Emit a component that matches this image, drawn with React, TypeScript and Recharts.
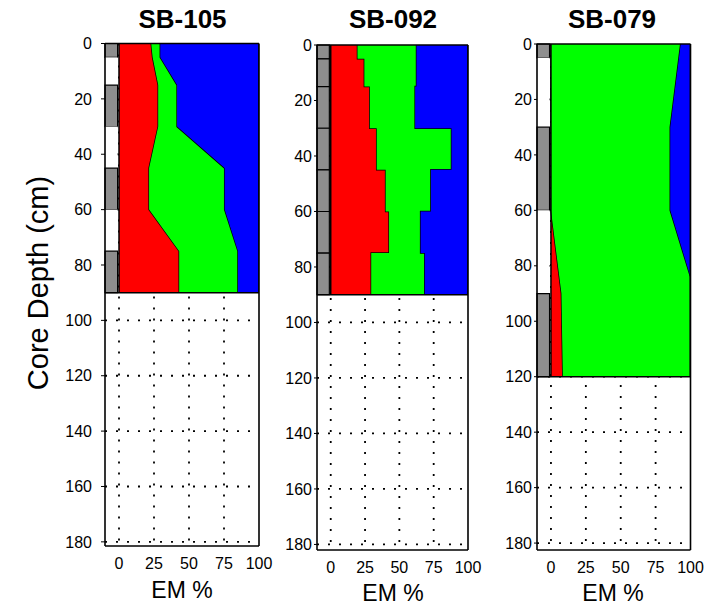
import React from 'react';
import {
  ComposedChart,
  Area,
  XAxis,
  YAxis,
  CartesianGrid,
  ReferenceArea,
  ReferenceLine,
} from 'recharts';

// ---------- shared ticks ----------
const depthTicks = [0, 20, 40, 60, 80, 100, 120, 140, 160, 180];
const gridDepths = [20, 40, 60, 80, 100, 120, 140, 160, 180];
const emTicks = [0, 25, 50, 75, 100];
const gridEm = [0, 25, 50, 75];

// ---------- SB-105 (piecewise linear profile) ----------
const sb105Depth = [0, 5, 15, 30, 45, 60, 75, 90];
const sb105Red = [23, 24, 28, 28, 21.5, 21.5, 43, 43];
const sb105Green = [6.5, 5.5, 13.5, 13.5, 54, 54, 42, 42];
const sb105Blue = [70.5, 70.5, 58.5, 58.5, 24.5, 24.5, 15, 15];
const sb105LithoTop = [0, 5, 15, 30, 45, 60, 75];
const sb105LithoBottom = [5, 15, 30, 45, 60, 75, 90];
const sb105LithoType = ['g', 'w', 'g', 'w', 'g', 'w', 'g'];

// ---------- SB-092 (stepwise intervals) ----------
const sb092Top = [0, 5, 15, 30, 45, 60, 75];
const sb092Bottom = [5, 15, 30, 45, 60, 75, 90];
const sb092Red = [19.5, 24.5, 28.5, 33.5, 40, 42.5, 29.5];
const sb092Green = [43, 38, 33, 54.5, 33, 23, 39];
const sb092Blue = [37.5, 37.5, 38.5, 12, 27, 34.5, 31.5];
const sb092LithoTop = [0, 5, 15, 30, 45, 60, 75];
const sb092LithoBottom = [5, 15, 30, 45, 60, 75, 90];
const sb092LithoType = ['g', 'g', 'g', 'g', 'g', 'g', 'g'];

// ---------- SB-079 (piecewise linear profile) ----------
const sb079Depth = [0, 30, 60, 84, 90, 120];
const sb079Red = [0, 0, 0, 6, 7.5, 8.5];
const sb079Green = [93, 85.5, 85.5, 94, 92.5, 91.5];
const sb079Blue = [7, 14.5, 14.5, 0, 0, 0];
const sb079LithoTop = [0, 5, 30, 60, 90];
const sb079LithoBottom = [5, 30, 60, 90, 120];
const sb079LithoType = ['g', 'w', 'g', 'w', 'g'];

const RED = '#ff0000';
const GREEN = '#00ff00';
const BLUE = '#0000ff';
const FONT = '"Liberation Sans", Arial, Helvetica, sans-serif';

type Row = { depth: number; red: number; green: number; blue: number };
type Litho = { top: number; bottom: number; type: string };

const profileRows = (d: number[], r: number[], g: number[], b: number[]): Row[] =>
  d.map((depth, i) => ({ depth, red: r[i], green: g[i], blue: b[i] }));

const stepRows = (t: number[], bt: number[], r: number[], g: number[], b: number[]): Row[] => {
  const rows: Row[] = [];
  t.forEach((top, i) => {
    rows.push({ depth: top, red: r[i], green: g[i], blue: b[i] });
    rows.push({ depth: bt[i], red: r[i], green: g[i], blue: b[i] });
  });
  return rows;
};

const lithoList = (t: number[], b: number[], ty: string[]): Litho[] =>
  t.map((top, i) => ({ top, bottom: b[i], type: ty[i] }));

const sb105Data = profileRows(sb105Depth, sb105Red, sb105Green, sb105Blue);
const sb092Data = stepRows(sb092Top, sb092Bottom, sb092Red, sb092Green, sb092Blue);
const sb079Data = profileRows(sb079Depth, sb079Red, sb079Green, sb079Blue);

const sb105Litho = lithoList(sb105LithoTop, sb105LithoBottom, sb105LithoType);
const sb092Litho = lithoList(sb092LithoTop, sb092LithoBottom, sb092LithoType);
const sb079Litho = lithoList(sb079LithoTop, sb079LithoBottom, sb079LithoType);

type PanelProps = {
  data: Row[];
  litho: Litho[];
  coreBottom: number;
  yMax: number;
  left: number;
  width: number;
  margin: { top: number; right: number; bottom: number; left: number };
  yAxisWidth: number;
  yTickSize: number;
  yTickMargin: number;
};

const Panel = ({ data, litho, coreBottom, yMax, left, width, margin, yAxisWidth, yTickSize, yTickMargin }: PanelProps) => (
  <div style={{ position: 'absolute', left, top: 0 }}>
    <ComposedChart layout="vertical" width={width} height={608} data={data} margin={margin}>
      <CartesianGrid
        stroke="#000"
        strokeWidth={1.8}
        strokeDasharray="2 9"
        horizontalValues={gridDepths}
        verticalValues={gridEm}
      />
      <XAxis
        type="number"
        domain={[-10, 100]}
        ticks={emTicks}
        allowDataOverflow
        height={40}
        tickLine={false}
        tickSize={0}
        tickMargin={12}
        axisLine={{ stroke: '#000', strokeWidth: 1.6 }}
        tick={{ fill: '#000', fontSize: 16, fontFamily: FONT }}
        interval={0}
      />
      <YAxis
        type="number"
        dataKey="depth"
        domain={[0, yMax]}
        ticks={depthTicks}
        allowDataOverflow
        width={yAxisWidth}
        tickSize={yTickSize}
        tickMargin={yTickMargin}
        tickLine={{ stroke: '#000' }}
        axisLine={{ stroke: '#000', strokeWidth: 1.6 }}
        tick={{ fill: '#000', fontSize: 16, fontFamily: FONT }}
        interval={0}
      />
      <Area type="linear" dataKey="red" stackId="s" fill={RED} fillOpacity={1} stroke="#000" strokeWidth={1.5} dot={false} activeDot={false} isAnimationActive={false} />
      <Area type="linear" dataKey="green" stackId="s" fill={GREEN} fillOpacity={1} stroke="#000" strokeWidth={1.5} dot={false} activeDot={false} isAnimationActive={false} />
      <Area type="linear" dataKey="blue" stackId="s" fill={BLUE} fillOpacity={1} stroke="#000" strokeWidth={1.5} dot={false} activeDot={false} isAnimationActive={false} />
      {litho.map((l, i) => (
        <ReferenceArea
          key={i}
          x1={-10}
          x2={-1}
          y1={l.top}
          y2={l.bottom}
          fill={l.type === 'g' ? '#8e8e8e' : '#ffffff'}
          fillOpacity={1}
          stroke={l.type === 'g' ? '#000' : 'none'}
          strokeWidth={1.2}
        />
      ))}
      <ReferenceLine segment={[{ x: 0, y: 0 }, { x: 0, y: coreBottom }]} stroke="#000" strokeWidth={1.5} />
      <ReferenceLine segment={[{ x: -10, y: coreBottom }, { x: 100, y: coreBottom }]} stroke="#000" strokeWidth={1.5} />
      <ReferenceLine y={0} stroke="#000" strokeWidth={1.6} />
      <ReferenceLine x={100} stroke="#000" strokeWidth={1.6} />
    </ComposedChart>
  </div>
);

const titles = [
  { text: 'SB-105', x: 182.5 },
  { text: 'SB-092', x: 393 },
  { text: 'SB-079', x: 612 },
];
const emLabels = [
  { x: 182, y: 598 },
  { x: 393, y: 601 },
  { x: 613, y: 601 },
];

export default function App() {
  return (
    <div style={{ position: 'absolute', left: 0, top: 0, width: 710, height: 608, background: '#fff', overflow: 'hidden' }}>
      <Panel
        data={sb105Data}
        litho={sb105Litho}
        coreBottom={90}
        yMax={181.5}
        left={0}
        width={280}
        margin={{ top: 43.5, right: 21, bottom: 22, left: 55 }}
        yAxisWidth={50}
        yTickSize={4}
        yTickMargin={9}
      />
      <Panel
        data={sb092Data}
        litho={sb092Litho}
        coreBottom={90}
        yMax={182}
        left={280}
        width={210}
        margin={{ top: 45, right: 22, bottom: 18, left: 7 }}
        yAxisWidth={30}
        yTickSize={3}
        yTickMargin={2}
      />
      <Panel
        data={sb079Data}
        litho={sb079Litho}
        coreBottom={120}
        yMax={182.5}
        left={490}
        width={220}
        margin={{ top: 44, right: 19.5, bottom: 18, left: 7 }}
        yAxisWidth={40}
        yTickSize={3}
        yTickMargin={2}
      />
      <svg width={710} height={608} style={{ position: 'absolute', left: 0, top: 0, pointerEvents: 'none' }}>
        {titles.map((t) => (
          <text key={t.text} x={t.x} y={28} textAnchor="middle" fontFamily={FONT} fontWeight="bold" fontSize={26} fill="#000">
            {t.text}
          </text>
        ))}
        {emLabels.map((e, i) => (
          <text key={i} x={e.x} y={e.y} textAnchor="middle" fontFamily={FONT} fontSize={23} fill="#000">
            EM %
          </text>
        ))}
        <text x={48} y={283} textAnchor="middle" transform="rotate(-90 48 283)" fontFamily={FONT} fontSize={29} fill="#000">
          Core Depth (cm)
        </text>
      </svg>
    </div>
  );
}
